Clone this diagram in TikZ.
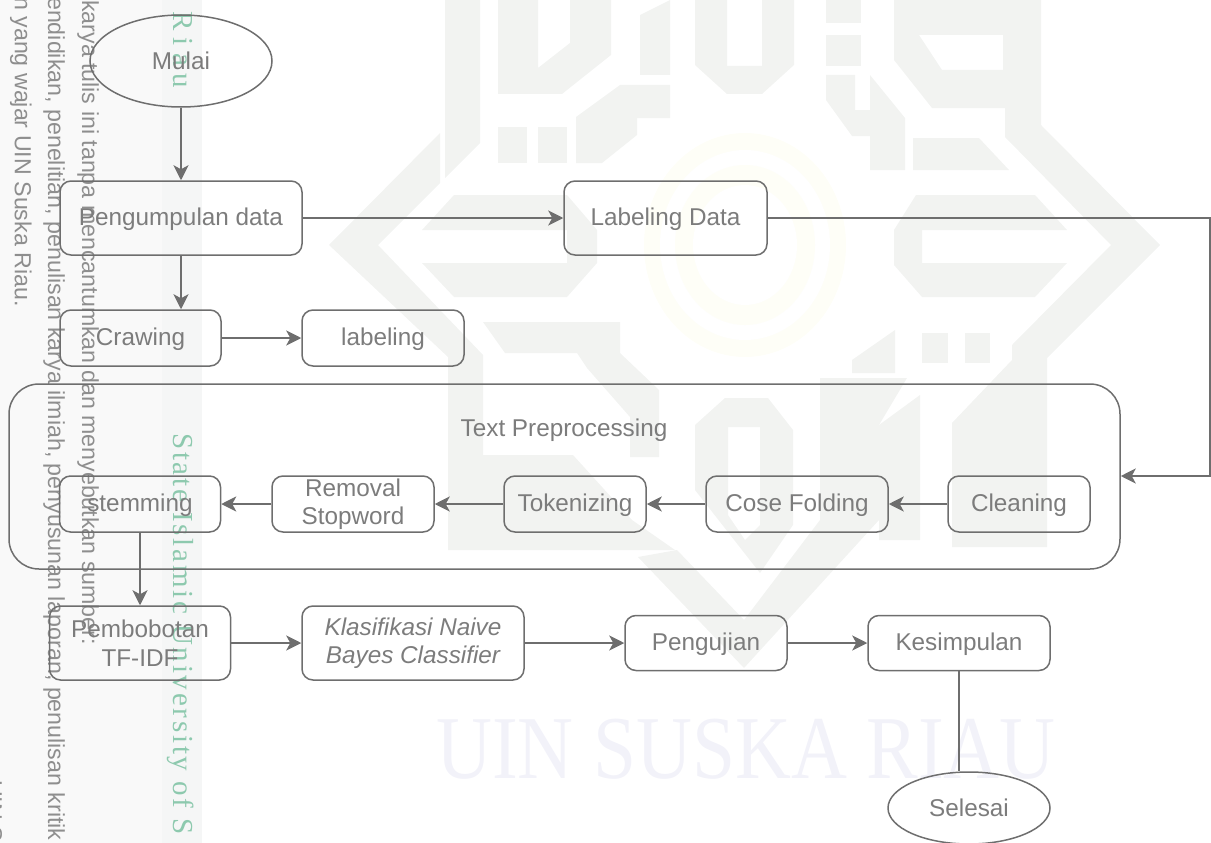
\documentclass[tikz,border=0pt]{standalone}
\usepackage{fontspec}
\setmainfont{Liberation Sans}
\newfontfamily\bandfont[LetterSpace=9.5]{Liberation Serif}
\newfontfamily\markfont{Liberation Serif}
\usetikzlibrary{arrows.meta,shapes.geometric}
\definecolor{ink}{HTML}{6E6E6E}
\definecolor{txt}{HTML}{7C7C7C}
\definecolor{wm}{HTML}{F2F3F1}
\definecolor{wmy}{HTML}{FEFEF7}
\definecolor{wmb}{HTML}{F2F2F9}
\definecolor{bandc}{HTML}{F5F6F6}
\definecolor{leftc}{HTML}{F9F9F9}
\definecolor{greenc}{HTML}{8DC9AE}
\definecolor{sidec}{HTML}{8E8E8E}
\tikzset{
  x=1pt,y=-1pt,
  base/.style={text=txt,font=\fontsize{24.3}{28.5}\selectfont,align=center,inner sep=0pt},
  procbox/.style={base,draw=ink,line width=1.5pt,rounded corners=11pt,execute at begin node={\rule{0pt}{20.5pt}}},
  oval/.style={base,draw=ink,line width=1.5pt,ellipse},
  flow/.style={draw=ink,line width=1.8pt,-{Stealth[length=15pt,width=15pt,inset=4pt]}},
  plainline/.style={draw=ink,line width=1.5pt},
  side/.style={text=sidec,font=\fontsize{23.2}{26}\selectfont,rotate=-90,anchor=base west,inner sep=0pt},
  band/.style={text=greenc,rotate=-90,anchor=base west,inner sep=0pt},
  wmark/.style={fill=wm,draw=none,even odd rule},
}
\begin{document}
\begin{tikzpicture}
\useasboundingbox (0,0) rectangle (1211,843);
\clip (0,0) rectangle (1211,843);
% page watermark
\fill[leftc] (0,0) rectangle (162,843);
\fill[bandc] (162,0) rectangle (202,843);
\fill[wmy] (745,245) ellipse (101 and 112);
\fill[white] (745,245) ellipse (85 and 95);
\fill[wmy] (745,245) ellipse (70 and 80);
\fill[white] (745,245) ellipse (52 and 60);
\fill[wmark] (440,133)--(329,245)--(448,357)--(448,550)--(483,550)--(483,355)--(378,245)--(440,183)--cycle;
\fill[wmark] (445,0)--(480,0)--(480,143)--(445,178)--cycle;
\fill[wmark] (498,0)--(538,0)--(538,68)--(570,43)--(570,0)--(611,0)--(611,55)--(562,94)--(498,94)--cycle;
\fill[wmark] (640,15)--(670,0)--(670,75)--(640,75)--cycle;
\fill[wmark] (695,0)--(727,0)--(727,66)--(762,66)--(762,0)--(794,0)--(794,65)--(762,94)--(727,94)--(695,65)--cycle;
\fill[wmark] (826,0)--(861,0)--(861,23)--(826,23)--cycle;
\fill[wmark] (826,35)--(861,35)--(861,66)--(826,66)--cycle;
\fill[wmark] (826,75)--(855,75)--(855,110)--(870,110)--(870,75)--(905,118)--(905,170)--(870,170)--(870,136)--(852,136)--(826,100)--cycle;
\fill[wmark] (894,0)--(1041,0)--(1041,125)--(1160,245)--(1047,358)--(1047,547)--(1012,547)--(1012,345)--(1111,245)--(1005,137)--(1005,108)--(932,108)--(894,60)--cycle (919,35)--(1003,35)--(1003,70)--(942,70)--cycle;
\fill[wmark] (913,138)--(979,138)--(1009,170)--(913,170)--cycle;
\fill[wmark] (498,127)--(527,127)--(527,163)--(498,163)--cycle;
\fill[wmark] (538,127)--(567,127)--(567,163)--(538,163)--cycle;
\fill[wmark] (576,117)--(620,85)--(670,85)--(670,118)--(637,118)--(637,135)--(602,163)--(576,163)--cycle;
\fill[wmark] (454,195)--(567,195)--(597,230)--(597,263)--(567,297)--(454,297)--(422,263)--(567,263)--(567,230)--(422,230)--cycle;
\fill[wmark] (916,195)--(1035,195)--(1067,230)--(922,230)--(922,263)--(1067,263)--(1035,297)--(922,297)--(894,265)--(894,230)--cycle;
% lower part of the emblem
\fill[wmark] (483,322)--(620,322)--(620,353)--(659,390)--(659,457)--(630,457)--(630,417)--(587,368)--(577,353)--(505,353)--cycle;
\fill[wmark] (483,455)--(573,455)--(632,520)--(675,550)--(483,550)--cycle;
\fill[wmark] (695,425)--(725,398)--(768,398)--(793,430)--(793,525)--(760,573)--(695,490)--cycle (728,427)--(760,427)--(760,525)--(745,540)--(728,515)--cycle;
\fill[wmark] (638,557)--(677,550)--(744,620)--(820,520)--(820,378)--(907,378)--(879,425)--(879,520)--(744,668)--cycle;
\fill[wmark] (852,360)--(895,330)--(895,373)--(852,373)--cycle;
\fill[wmark] (922,333)--(948,333)--(948,363)--(922,363)--cycle;
\fill[wmark] (965,333)--(990,333)--(990,363)--(965,363)--cycle;
\fill[wmark] (879,425)--(920,395)--(920,540)--(879,540)--cycle;
\fill[wmark] (952,423)--(1012,360)--(1012,547)--(952,547)--cycle;
\node[inner sep=0pt,text=wmb,font=\markfont\fontsize{88}{88}\selectfont,anchor=base] (wmtext) at (746,778) {\scalebox{0.88}[1.02]{UIN SUSKA RIAU}};
% sidebar texts
\node[side] (sa) at (82,0) {karya tulis ini tanpa mencantumkan dan menyebutkan sumber:};
\node[side] (sb) at (48,-3) {endidikan, penelitian, penulisan karya ilmiah, penyusunan laporan, penulisan kritik};
\node[side] (sc) at (15,-3) {n yang wajar UIN Suska Riau.};
\node[side] (sd) at (-14,780) {UIN S};
\node[band,font=\markfont\fontsize{29}{32}\selectfont] (ra) at (173,11) {R i a u};
\node[band,font=\bandfont\fontsize{29}{32}\selectfont] (st) at (173,433) {State Islamic University of S};
% diagram
\node[oval,minimum width=182pt,minimum height=92pt] (mulai) at (181,61) {Mulai};
\node[procbox,minimum width=242pt,minimum height=74pt] (peng) at (181,218) {Pengumpulan data};
\node[procbox,minimum width=203pt,minimum height=74pt] (labd) at (665.5,218) {Labeling Data};
\node[procbox,minimum width=161pt,minimum height=56pt] (craw) at (140.5,338) {Crawing};
\node[procbox,minimum width=162pt,minimum height=56pt] (lab) at (383,338) {labeling};
\node[base,draw=ink,line width=1.5pt,rounded corners=30pt,minimum width=1111pt,minimum height=185pt] (prep) at (564.5,476.5) {};
\node[base] (preplabel) at (564,430) {Text Preprocessing};
\node[procbox,minimum width=142pt,minimum height=56pt] (clean) at (1019,504) {Cleaning};
\node[procbox,minimum width=182pt,minimum height=56pt] (cose) at (797,504) {Cose Folding};
\node[procbox,minimum width=142pt,minimum height=56pt] (tok) at (575,504) {Tokenizing};
\node[procbox,minimum width=162pt,minimum height=56pt] (rem) at (353,504) {Removal\\Stopword};
\node[procbox,minimum width=161pt,minimum height=56pt] (stem) at (140,504) {stemming};
\node[procbox,minimum width=181pt,minimum height=74pt] (bobot) at (140,643) {Pembobotan\\TF-IDF};
\node[procbox,minimum width=222pt,minimum height=74pt] (klas) at (413,643) {\itshape Klasifikasi Naive\\\itshape Bayes Classifier};
\node[procbox,minimum width=162pt,minimum height=55pt] (uji) at (706,643) {Pengujian};
\node[procbox,minimum width=182pt,minimum height=55pt] (kes) at (959,643) {Kesimpulan};
\node[oval,minimum width=162pt,minimum height=72pt] (sel) at (969,808) {Selesai};
\coordinate (c1) at (1210,218);
\coordinate (c2) at (1210,476);
\draw[flow] (mulai) -- (peng);
\draw[flow] (peng) -- (labd);
\draw[flow] (peng.south) -- (peng.south |- craw.north);
\draw[flow] (craw) -- (lab);
\draw[flow] (labd.east) -- (c1) -- (c2) -- (prep.east |- c2);
\draw[flow] (clean) -- (cose);
\draw[flow] (cose) -- (tok);
\draw[flow] (tok) -- (rem);
\draw[flow] (rem) -- (stem);
\draw[flow] (stem) -- (bobot);
\draw[flow] (bobot) -- (klas);
\draw[flow] (klas.east |- uji) -- (uji);
\draw[flow] (uji) -- (kes);
\draw[plainline] (kes.south) -- (kes.south |- sel.north);
\end{tikzpicture}
\end{document}
